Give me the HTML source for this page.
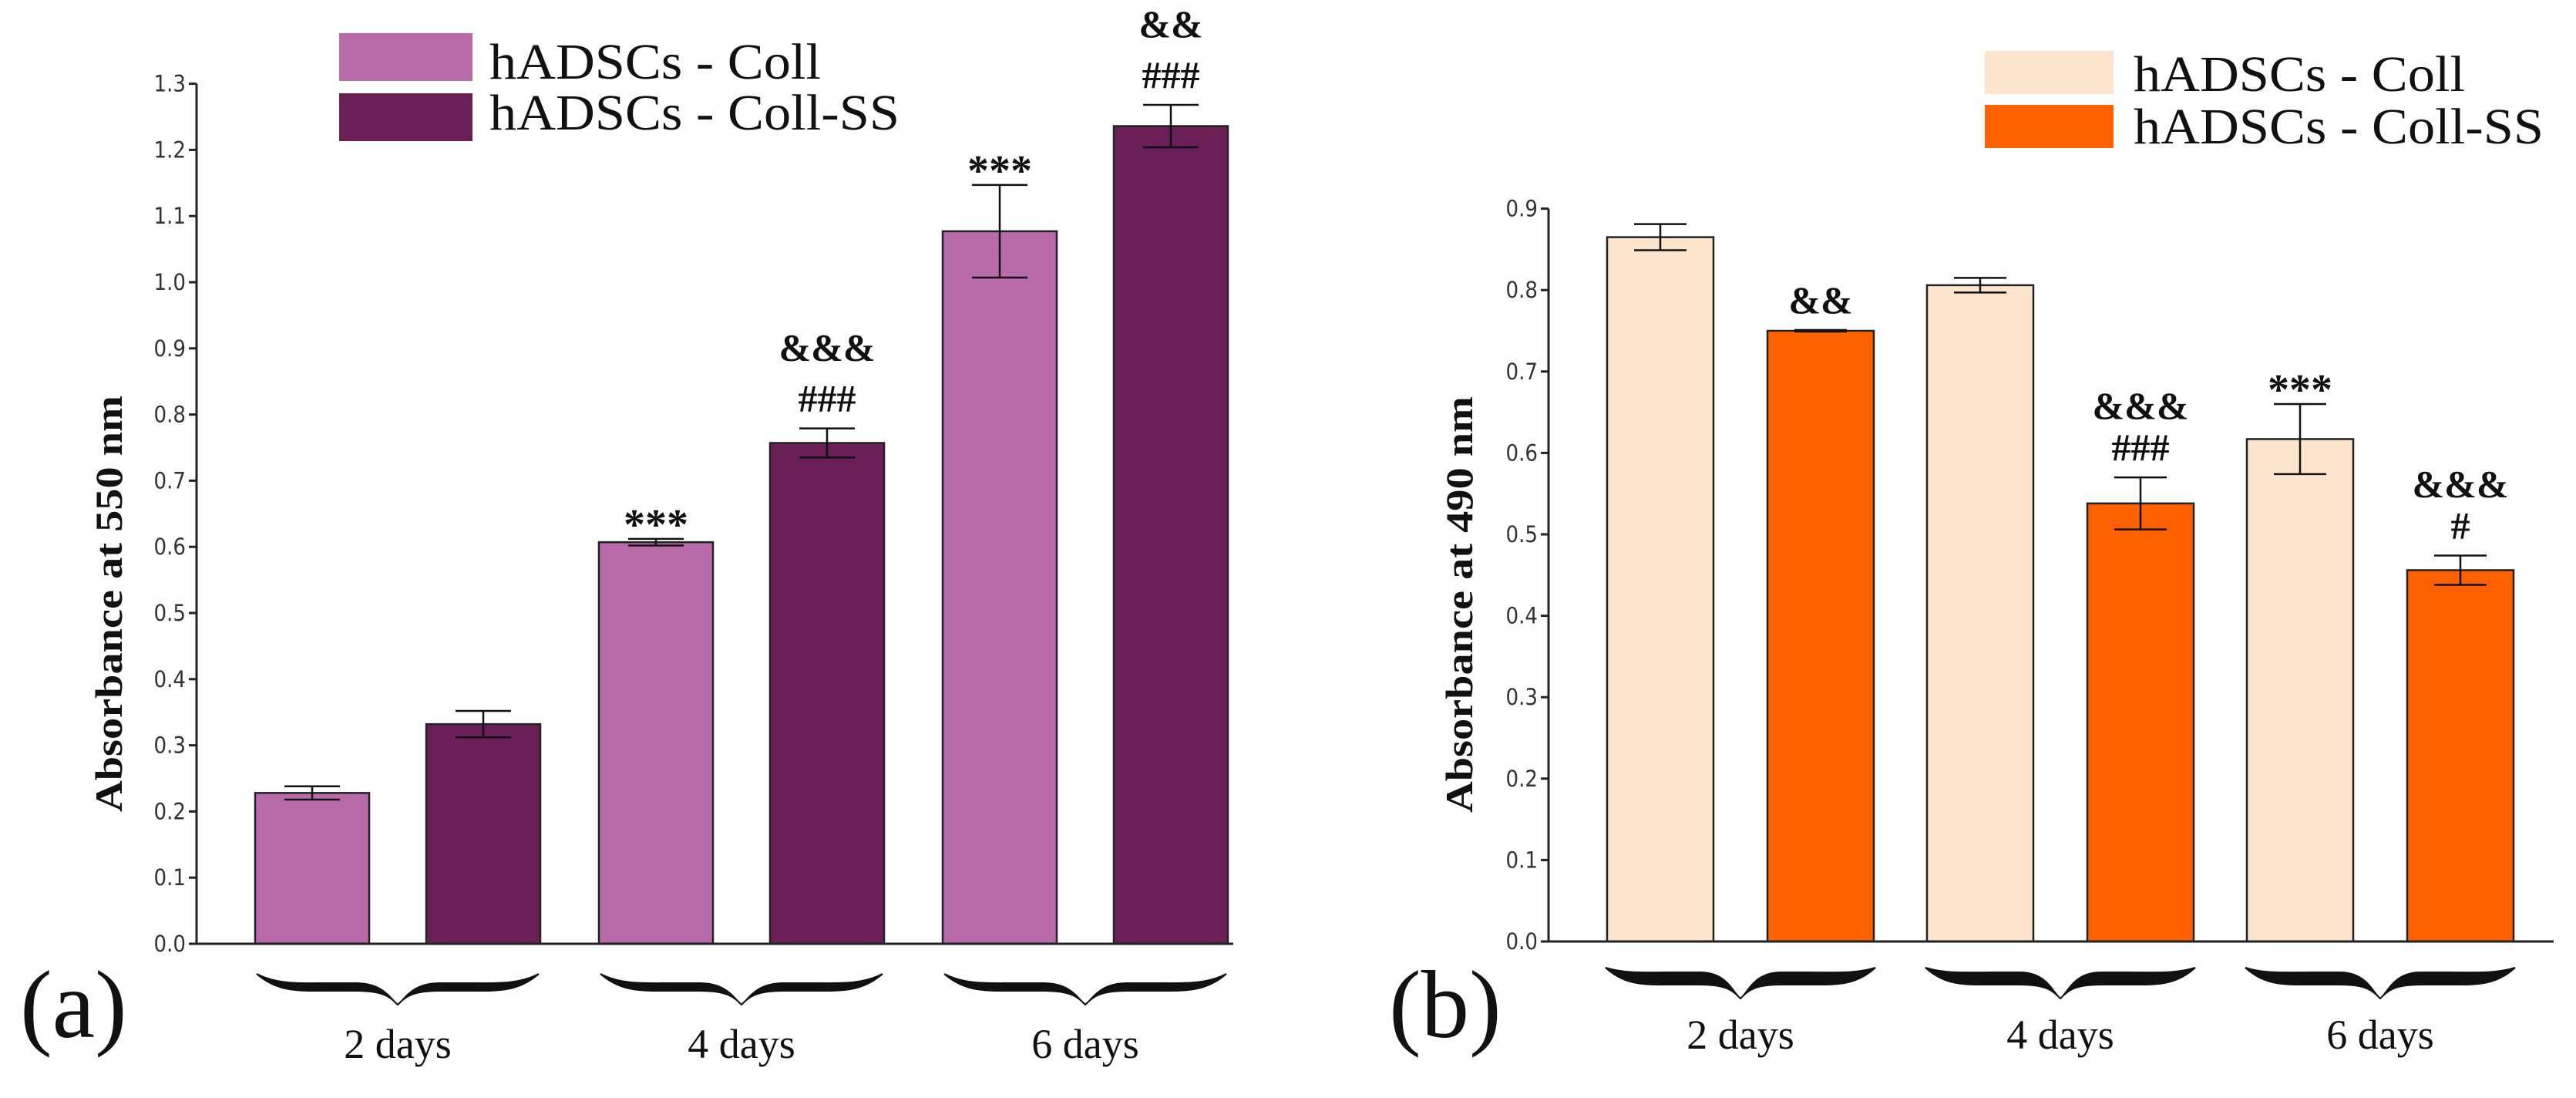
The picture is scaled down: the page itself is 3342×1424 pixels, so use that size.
<!DOCTYPE html>
<html><head><meta charset="utf-8"><style>
html,body{margin:0;padding:0;background:#fff;}
svg{display:block;}
.tick{font-family:"DejaVu Sans Condensed","DejaVu Sans","Liberation Sans",sans-serif;font-size:29px;fill:#333;}
.ser{font-family:"Liberation Serif","Times New Roman",serif;}
</style></head><body>
<svg id="fig" width="3342" height="1424" viewBox="0 0 3342 1424" xmlns="http://www.w3.org/2000/svg">
<g id="chartA"></g>
<g id="chartB"></g>
</svg>
<script>
// Chart A data
const catsA = ["2 days","4 days","6 days"];
const collA = [0.228, 0.607, 1.077];
const collSSA = [0.332, 0.757, 1.236];
const errCollA = [0.010, 0.005, 0.070];
const errCollSSA = [0.020, 0.022, 0.032];
const ticksA = ["0.0","0.1","0.2","0.3","0.4","0.5","0.6","0.7","0.8","0.9","1.0","1.1","1.2","1.3"];
const annotCollA = [[], ["***"], ["***"]];
const annotCollSSA = [[], ["&&&","###"], ["&&","###"]];
// Chart B data
const catsB = ["2 days","4 days","6 days"];
const collB = [0.865, 0.806, 0.617];
const collSSB = [0.750, 0.538, 0.456];
const errCollB = [0.016, 0.009, 0.043];
const errCollSSB = [0.001, 0.032, 0.018];
const ticksB = ["0.0","0.1","0.2","0.3","0.4","0.5","0.6","0.7","0.8","0.9"];
const annotCollB = [[], [], ["***"]];
const annotCollSSB = [["&&"], ["&&&","###"], ["&&&","#"]];

const NS = "http://www.w3.org/2000/svg";
function mk(parent, tag, attrs, text){
  const e = document.createElementNS(NS, tag);
  for (const k in attrs) e.setAttribute(k, attrs[k]);
  if (text !== undefined) e.textContent = text;
  parent.appendChild(e);
  return e;
}
function brace(x1, x2, y, h, th){
  const m = (x1+x2)/2, q = (x2-x1)/4;
  return `M${x1},${y} C${x1+q*0.3},${y+h*0.6} ${x1+q*0.6},${y+h*0.55} ${x1+q},${y+h*0.55}` +
    ` L${m-q*0.6},${y+h*0.55} C${m-q*0.2},${y+h*0.55} ${m-10},${y+h*0.75} ${m},${y+h}` +
    ` C${m+10},${y+h*0.75} ${m+q*0.2},${y+h*0.55} ${m+q*0.6},${y+h*0.55}` +
    ` L${x2-q},${y+h*0.55} C${x2-q*0.6},${y+h*0.55} ${x2-q*0.3},${y+h*0.6} ${x2},${y}` +
    ` C${x2-q*0.3},${y+h*0.6+th} ${x2-q*0.6},${y+h*0.55+th} ${x2-q},${y+h*0.55+th}` +
    ` L${m+q*0.6},${y+h*0.55+th} C${m+q*0.2},${y+h*0.55+th} ${m+10},${y+h*0.8} ${m},${y+h}` +
    ` C${m-10},${y+h*0.8} ${m-q*0.2},${y+h*0.55+th} ${m-q*0.6},${y+h*0.55+th}` +
    ` L${x1+q},${y+h*0.55+th} C${x1+q*0.6},${y+h*0.55+th} ${x1+q*0.3},${y+h*0.6+th} ${x1},${y} Z`;
}

function draw(g, cfg){
  const yS = v => cfg.y0 - (v/cfg.step)*cfg.pxStep;
  const xL = i => cfg.firstX + i*cfg.pitch;
  const xR = i => cfg.firstX + cfg.inner + i*cfg.pitch;
  const ax = mk(g,"line",{x1:cfg.axX,y1:yS(0)+1,x2:cfg.axX,y2:yS((cfg.ticks.length-1)*cfg.step),stroke:"#222","stroke-width":3});
  
  
  cfg.ticks.forEach((t,i)=>{
    const y = yS(i*cfg.step);
    const tk = mk(g,"line",{x1:cfg.axX-10,y1:y,x2:cfg.axX,y2:y,stroke:"#222","stroke-width":3});
    
    
    const tl = mk(g,"text",{x:cfg.axX-14,y:y+10,"text-anchor":"end",class:"tick"},t);
    
    
  });
  const drawBar = (x,v,e,fill,ann,name)=>{
    const b = mk(g,"rect",{x:x,y:yS(v),width:cfg.bw,height:yS(0)-yS(v),fill:fill,stroke:"#222","stroke-width":2.5});
    
    
    const cx = x+cfg.bw/2;
    const eg = mk(g,"path",{d:`M${cx},${yS(v+e)} L${cx},${yS(v-e)} M${cx-cfg.cap},${yS(v+e)} L${cx+cfg.cap},${yS(v+e)} M${cx-cfg.cap},${yS(v-e)} L${cx+cfg.cap},${yS(v-e)}`,stroke:"#111","stroke-width":2.5,fill:"none"});
    
    
    ann.forEach((a,k)=>{
      const n = ann.length;
      const yy = yS(v+e) - 22 - (n-1-k)*cfg.annGap;
      const isStar = a.indexOf("*")>=0;
      const t = mk(g,"text",{x:cx,y:isStar?yy+22:yy,"text-anchor":"middle",class:"ser","font-size":isStar?56:50,"font-weight":"bold",fill:"#111"},a);
      
      
    });
  };
  cfg.cats.forEach((c,i)=>{
    drawBar(xL(i),cfg.s1[i],cfg.e1[i],cfg.c1,cfg.a1[i],'bar-coll-'+c.replace(' ','-'));
    drawBar(xR(i),cfg.s2[i],cfg.e2[i],cfg.c2,cfg.a2[i],'bar-coll-ss-'+c.replace(' ','-'));
    const bx1 = xL(i)+cfg.braceInset, bx2 = xR(i)+cfg.bw-cfg.braceInset;
    const br = mk(g,"path",{d:brace(bx1,bx2,cfg.braceY,40,cfg.braceTh),fill:"#111",stroke:"#111","stroke-width":2});
    
    
    const lb = mk(g,"text",{x:(bx1+bx2)/2+cfg.lblDx,y:cfg.lblY,"text-anchor":"middle",class:"ser","font-size":54,fill:"#111"},c);
    
    
  });
  const xa = mk(g,"line",{x1:cfg.axX-10,y1:yS(0),x2:cfg.axEnd,y2:yS(0),stroke:"#222","stroke-width":3});
  
  
  const yt = mk(g,"text",{x:0,y:0,transform:`translate(${cfg.titleX},${cfg.titleY}) rotate(-90)`,"text-anchor":"middle",class:"ser","font-size":50,"font-weight":"bold",fill:"#111",textLength:540,lengthAdjust:"spacingAndGlyphs"},cfg.title);
  
  
  const lg = mk(g,"g",{});
  
  
  const s1 = mk(lg,"rect",{x:cfg.legX,y:cfg.legY1,width:cfg.legW,height:cfg.legH,fill:cfg.c1});
  
  
  const s2 = mk(lg,"rect",{x:cfg.legX,y:cfg.legY2,width:cfg.legW,height:cfg.legH,fill:cfg.c2});
  
  
  const t1 = mk(lg,"text",{x:cfg.legTX,y:cfg.legB1,class:"ser","font-size":66,fill:"#111",textLength:430,lengthAdjust:"spacingAndGlyphs"},"hADSCs - Coll");
  
  
  const t2 = mk(lg,"text",{x:cfg.legTX,y:cfg.legB2,class:"ser","font-size":66,fill:"#111",textLength:532,lengthAdjust:"spacingAndGlyphs"},"hADSCs - Coll-SS");
  
  
  const pl = mk(g,"text",{x:cfg.panelX,y:cfg.panelY,class:"ser","font-size":125,fill:"#111"},cfg.panel);
  
  
}

draw(document.getElementById("chartA"),{
  cats:catsA,s1:collA,s2:collSSA,e1:errCollA,e2:errCollSSA,a1:annotCollA,a2:annotCollSSA,ticks:ticksA,
  step:0.1,y0:1224,pxStep:85.8,axX:255,axEnd:1600,firstX:331,inner:222,pitch:446,bw:148,cap:36,annGap:66,
  c1:"#b96aa8",c2:"#6a1f57",braceY:1263,braceInset:2,braceTh:-10,lblY:1372,lblDx:0,
  title:"Absorbance at 550 nm",titleX:158,titleY:783,
  legX:440,legY1:43,legY2:121,legW:173,legH:62,legTX:635,legB1:102,legB2:168,
  panel:"(a)",panelX:26,panelY:1345
});
draw(document.getElementById("chartB"),{
  cats:catsB,s1:collB,s2:collSSB,e1:errCollB,e2:errCollSSB,a1:annotCollB,a2:annotCollSSB,ticks:ticksB,
  step:0.1,y0:1221,pxStep:105.6,axX:2009,axEnd:3313,firstX:2085,inner:208,pitch:415,bw:138,cap:34,annGap:54,
  c1:"#fde4cc",c2:"#ff6000",braceY:1255,braceInset:-2,braceTh:-16,lblY:1360,lblDx:0,
  title:"Absorbance at 490 nm",titleX:1910,titleY:784,
  legX:2575,legY1:66,legY2:136,legW:167,legH:56,legTX:2768,legB1:118,legB2:186,
  panel:"(b)",panelX:1802,panelY:1345
});
</script>
</body></html>
